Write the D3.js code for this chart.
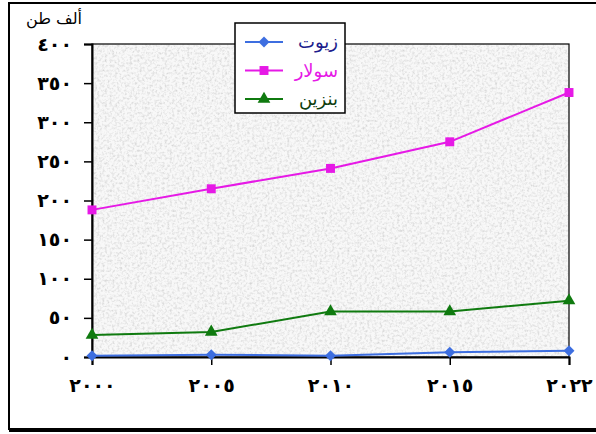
<!DOCTYPE html>
<html>
<head lang="ar">
	<meta charset="UTF-8">
	<title>chart</title>
	<script src="https://cdn.jsdelivr.net/npm/d3@7"></script>
	<style type="text/css">
		body { margin: 0; background: #fff; }
		svg text { font-family: "DejaVu Sans", sans-serif; }
	</style>
</head>
<body>
	<svg id="chart" width="596" height="434" xmlns="http://www.w3.org/2000/svg"></svg>
	<script type="text/javascript">
		var years = ['2000', '2005', '2010', '2015', '2022'];
		var oils = [1.5, 3, 1.5, 6, 8];          // زيوت
		var diesel = [188, 215, 241, 275, 338];  // سولار
		var petrol = [28, 32, 58, 58, 72];       // بنزين
		var yTicks = [0, 50, 100, 150, 200, 250, 300, 350, 400];
		var unitLabel = 'ألف طن';

		var series = [
			{ name: 'زيوت', values: oils, color: '#3d6ee0', text: '#1c1c8c', shape: 'diamond' },
			{ name: 'سولار', values: diesel, color: '#e619e6', text: '#e619e6', shape: 'square' },
			{ name: 'بنزين', values: petrol, color: '#0f7a0f', text: '#0d3d0d', shape: 'triangle' }
		];

		var arDigits = '٠١٢٣٤٥٦٧٨٩';
		function toArabic(s) {
			return String(s).replace(/[0-9]/g, function (c) { return arDigits[+c]; });
		}

		var svg = d3.select('#chart');
		var pLeft = 92, pRight = 569, pTop = 44, pBottom = 357;

		// noise texture for the plot background
		var defs = svg.append('defs');
		var f = defs.append('filter').attr('id', 'grain').attr('x', 0).attr('y', 0).attr('width', 1).attr('height', 1);
		f.append('feTurbulence').attr('type', 'fractalNoise').attr('baseFrequency', 0.4).attr('numOctaves', 3).attr('seed', 7).attr('result', 'n');
		f.append('feColorMatrix').attr('in', 'n').attr('type', 'matrix')
			.attr('values', '0 0 0 0 0  0 0 0 0 0  0 0 0 0 0  0 0 0 -1.5 0.85').attr('result', 'a');
		f.append('feFlood').attr('flood-color', '#f8f8f8').attr('result', 'bg');
		f.append('feFlood').attr('flood-color', '#c6c6c6').attr('result', 'dk');
		f.append('feComposite').attr('in', 'dk').attr('in2', 'a').attr('operator', 'in').attr('result', 'spots');
		f.append('feMerge').selectAll('feMergeNode').data(['bg', 'spots']).enter().append('feMergeNode').attr('in', function (d) { return d; });

		// outer frame
		svg.append('rect').attr('x', 9).attr('y', 3).attr('width', 600).attr('height', 426)
			.attr('fill', 'none').attr('stroke', '#000').attr('stroke-width', 2);
		svg.append('line').attr('x1', 9).attr('x2', 596).attr('y1', 430).attr('y2', 430)
			.attr('stroke', '#000').attr('stroke-width', 4);

		var x = d3.scalePoint().domain(years).range([pLeft, pRight]);
		var y = d3.scaleLinear().domain([0, 400]).range([pBottom, pTop]);

		svg.append('rect').attr('x', pLeft).attr('y', pTop).attr('width', pRight - pLeft).attr('height', pBottom - pTop)
			.attr('fill', '#e6e6e6').attr('filter', 'url(#grain)');
		svg.append('rect').attr('x', pLeft).attr('y', pTop).attr('width', pRight - pLeft).attr('height', pBottom - pTop)
			.attr('fill', 'none').attr('stroke', '#000').attr('stroke-width', 1.2);

		var yAxis = svg.append('g').attr('transform', 'translate(' + pLeft + ',0)')
			.call(d3.axisLeft(y).tickValues(yTicks).tickSize(8).tickPadding(12).tickFormat(toArabic));
		var xAxis = svg.append('g').attr('transform', 'translate(0,' + pBottom + ')')
			.call(d3.axisBottom(x).tickSize(8).tickPadding(14).tickFormat(toArabic));
		[yAxis, xAxis].forEach(function (g) {
			g.select('.domain').attr('stroke-width', 2);
			g.selectAll('.tick line').attr('stroke-width', 1.5);
			g.selectAll('text').attr('font-size', 19).attr('font-weight', 'bold').attr('fill', '#000')
				.attr('font-family', '"DejaVu Sans", sans-serif');
		});
		xAxis.selectAll('text').attr('letter-spacing', 4);
		yAxis.selectAll('text').attr('letter-spacing', 3);

		svg.append('text').attr('x', 82).attr('y', 24).attr('text-anchor', 'end')
			.attr('font-size', 16).text(unitLabel);

		var symbols = { diamond: d3.symbolSquare, square: d3.symbolSquare, triangle: d3.symbolTriangle };
		var sizes = { diamond: 60, square: 80, triangle: 70 };
		var rot = { diamond: 45, square: 0, triangle: 0 };
		var line = d3.line().x(function (d, i) { return x(years[i]); }).y(function (d) { return y(d); });

		series.forEach(function (s) {
			svg.append('path').attr('d', line(s.values)).attr('fill', 'none')
				.attr('stroke', s.color).attr('stroke-width', 2);
			svg.selectAll(null).data(s.values).enter().append('path')
				.attr('d', d3.symbol().type(symbols[s.shape]).size(sizes[s.shape]))
				.attr('transform', function (d, i) {
					return 'translate(' + x(years[i]) + ',' + y(d) + ') rotate(' + rot[s.shape] + ')';
				})
				.attr('fill', s.color);
		});

		// legend
		var lg = svg.append('g');
		lg.append('rect').attr('x', 235).attr('y', 23).attr('width', 110).attr('height', 90)
			.attr('fill', '#fff').attr('stroke', '#000').attr('stroke-width', 1.5);
		series.forEach(function (s, i) {
			var ly = 42 + i * 28.5;
			lg.append('line').attr('x1', 245).attr('x2', 283).attr('y1', ly).attr('y2', ly)
				.attr('stroke', s.color).attr('stroke-width', 2);
			lg.append('path').attr('d', d3.symbol().type(symbols[s.shape]).size(sizes[s.shape]))
				.attr('transform', 'translate(264,' + ly + ') rotate(' + rot[s.shape] + ')').attr('fill', s.color);
			lg.append('text').attr('x', 338).attr('y', ly + 6).attr('text-anchor', 'end')
				.attr('font-size', 18).attr('fill', s.text).text(s.name);
		});
	</script>
</body>
</html>
